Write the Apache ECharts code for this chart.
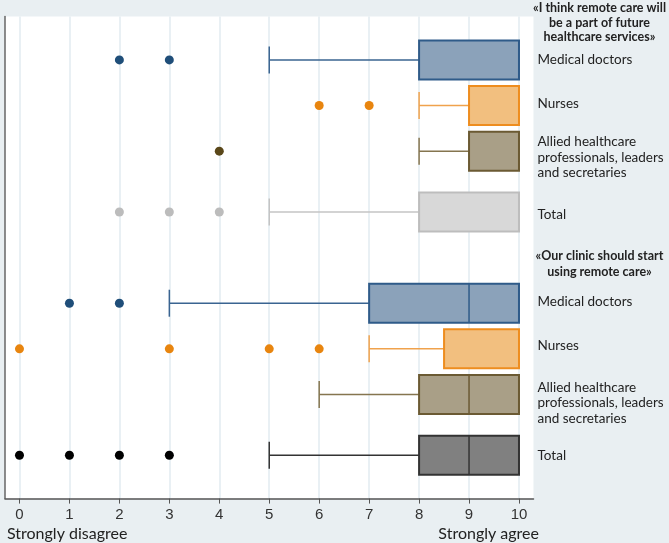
<!DOCTYPE html>
<html>
<head>
<meta charset="utf-8">
<script src="https://cdn.jsdelivr.net/npm/echarts@6/dist/echarts.min.js"></script>
<style>
html,body{margin:0;padding:0;background:#e9eff2;overflow:hidden;}
#chart{width:669px;height:543px;}
</style>
</head>
<body>
<div id="chart"></div>
<script>
// ---- data ----
const groupTitles = ['«I think remote care will\nbe a part of future\nhealthcare services»', '«Our clinic should start\nusing remote care»'];
const roleLabels = ['Medical doctors', 'Nurses', 'Allied healthcare\nprofessionals, leaders\nand secretaries', 'Total',
                    'Medical doctors', 'Nurses', 'Allied healthcare\nprofessionals, leaders\nand secretaries', 'Total'];
const lowerWhisker = [5, 8, 8, 5, 3, 7, 6, 5];
const lowerQuartile = [8, 9, 9, 8, 7, 8.5, 8, 8];
const medians = [10, 10, 10, 10, 9, 10, 9, 9];
const upperQuartile = [10, 10, 10, 10, 10, 10, 10, 10];
const upperWhisker = [10, 10, 10, 10, 10, 10, 10, 10];
const outliers = [[2, 3], [6, 7], [4], [2, 3, 4], [1, 2], [0, 3, 5, 6], [], [0, 1, 2, 3]];
const xTicks = [0, 1, 2, 3, 4, 5, 6, 7, 8, 9, 10];

// ---- layout (row slots on the vertical axis) ----
const rowPos = [0, 3, 6, 10, 16, 19, 22, 26];
const labelPos = [0, 2.85, 6.4, 10.2, 15.92, 18.8, 22.57, 26];
const titlePos = [-2.46, 13.44];

// ---- styles ----
const boxFill = ['#8ba2ba', '#f2bf7f', '#a99f87', '#d8d8d8', '#8ba2ba', '#f2bf7f', '#a99f87', '#808080'];
const boxStroke = ['#2f5b89', '#ee8d1f', '#6b5a33', '#bdbdbd', '#2f5b89', '#ee8d1f', '#6b5a33', '#333333'];
const whiskerColor = ['#3a6491', '#f0a24c', '#85754f', '#c4c4c4', '#3a6491', '#f0a24c', '#85754f', '#333333'];
const dotColor = ['#1f4e79', '#e8850f', '#5a4719', '#bcbcbc', '#1f4e79', '#e8850f', '#5a4719', '#000000'];

const boxData = rowPos.map((p, i) => [p, lowerWhisker[i], lowerQuartile[i], medians[i], upperQuartile[i], upperWhisker[i]]);
const outlierData = [];
outliers.forEach((list, i) => list.forEach(v => outlierData.push({value: [v, rowPos[i]], itemStyle: {color: dotColor[i], opacity: 1}})));

const labelValues = labelPos.concat(titlePos);
function labelFor(v) {
  for (let i = 0; i < labelPos.length; i++) if (Math.abs(v - labelPos[i]) < 1e-6) return roleLabels[i];
  for (let j = 0; j < titlePos.length; j++) if (Math.abs(v - titlePos[j]) < 1e-6) {
    const sty = j === 0 ? 't1' : 't2';
    return groupTitles[j].split('\n').map(s => '{' + sty + '|' + s + '}').join('\n');
  }
  return '';
}

const chart = echarts.init(document.getElementById('chart'));
const Y_MIN = -2.85, Y_MAX = 28.85;
chart.setOption({
  backgroundColor: '#e9eff2',
  animation: false,
  title: [
    {text: 'Strongly disagree', left: 2, top: 521, textStyle: {fontFamily: 'Lato', fontSize: 16, fontWeight: 'normal', color: '#222'}},
    {text: 'Strongly agree', right: 125, top: 521, textStyle: {fontFamily: 'Lato', fontSize: 16, fontWeight: 'normal', color: '#222'}}
  ],
  grid: {left: 5, right: 132, top: 16.6, bottom: 44.4, show: true, backgroundColor: '#ffffff', borderWidth: 0, containLabel: false},
  xAxis: {
    type: 'value', min: -0.29, max: 10.29,
    axisLine: {show: true, onZero: false, lineStyle: {color: '#555', width: 1.5}},
    axisTick: {show: true, customValues: xTicks, length: 5, lineStyle: {color: '#555', width: 1}},
    axisLabel: {customValues: xTicks, fontFamily: 'Liberation Sans Narrow, Liberation Sans, sans-serif', fontSize: 15, color: '#333', margin: 9},
    splitLine: {show: true, lineStyle: {color: '#e2ebf0', width: 1.5}}
  },
  yAxis: [
    {
      type: 'value', position: 'right', inverse: true, min: Y_MIN, max: Y_MAX,
      axisLine: {show: false}, axisTick: {show: false}, splitLine: {show: false},
      axisLabel: {
        customValues: labelValues, formatter: labelFor, margin: 4, align: 'left',
        fontFamily: 'Lato', fontSize: 13.5, color: '#222', lineHeight: 15.7,
        rich: {
          t1: {fontFamily: 'Lato', fontSize: 12.5, fontWeight: 'bold', color: '#222', width: 124, align: 'center', lineHeight: 14.7},
          t2: {fontFamily: 'Lato', fontSize: 12.5, fontWeight: 'bold', color: '#222', width: 124, align: 'center', lineHeight: 16.3}
        }
      }
    },
    {
      type: 'value', position: 'left', inverse: true, min: Y_MIN, max: Y_MAX,
      axisLine: {show: true, onZero: false, lineStyle: {color: '#666', width: 1.5}},
      axisTick: {show: false}, axisLabel: {show: false}, splitLine: {show: false}
    }
  ],
  series: [
    {
      type: 'custom', yAxisIndex: 0,
      encode: {x: [1, 2, 3, 4, 5], y: 0},
      data: boxData,
      renderItem: function (params, api) {
        const i = params.dataIndex;
        const y = api.value(0);
        const pLo = api.coord([api.value(1), y]);
        const pQ1 = api.coord([api.value(2), y]);
        const pMed = api.coord([api.value(3), y]);
        const pQ3 = api.coord([api.value(4), y]);
        const pHi = api.coord([api.value(5), y]);
        const bh = 39, ch = 27;
        const cy = pQ1[1];
        const ws = {stroke: whiskerColor[i], lineWidth: 1.5};
        const children = [];
        if (pLo[0] < pQ1[0] - 0.5) {
          children.push({type: 'line', shape: {x1: pLo[0], y1: cy, x2: pQ1[0], y2: cy}, style: ws});
          children.push({type: 'line', shape: {x1: pLo[0], y1: cy - ch / 2, x2: pLo[0], y2: cy + ch / 2}, style: ws});
        }
        if (pHi[0] > pQ3[0] + 0.5) {
          children.push({type: 'line', shape: {x1: pQ3[0], y1: cy, x2: pHi[0], y2: cy}, style: ws});
          children.push({type: 'line', shape: {x1: pHi[0], y1: cy - ch / 2, x2: pHi[0], y2: cy + ch / 2}, style: ws});
        }
        children.push({type: 'rect', shape: {x: pQ1[0], y: cy - bh / 2, width: pQ3[0] - pQ1[0], height: bh},
          style: {fill: boxFill[i], stroke: boxStroke[i], lineWidth: 2}});
        if (pMed[0] > pQ1[0] + 0.5 && pMed[0] < pQ3[0] - 0.5) {
          children.push({type: 'line', shape: {x1: pMed[0], y1: cy - bh / 2, x2: pMed[0], y2: cy + bh / 2},
            style: {stroke: boxStroke[i], lineWidth: 1.5}});
        }
        return {type: 'group', children: children};
      }
    },
    {
      type: 'scatter', yAxisIndex: 0, symbol: 'circle', symbolSize: 9,
      itemStyle: {opacity: 1},
      data: outlierData
    }
  ]
});
</script>
</body>
</html>
